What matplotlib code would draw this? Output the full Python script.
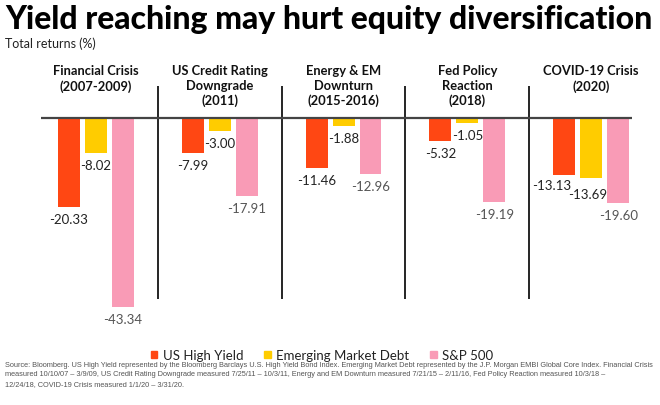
import numpy as np
import matplotlib
matplotlib.use("Agg")
import matplotlib.pyplot as plt
import matplotlib.transforms as mtransforms
from matplotlib.patches import Patch

# donnees
periods = ["Financial Crisis\n(2007-2009)", "US Credit Rating\nDowngrade\n(2011)",
           "Energy & EM\nDownturn\n(2015-2016)", "Fed Policy\nReaction\n(2018)",
           "COVID-19 Crisis\n(2020)"]
series = ["US High Yield", "Emerging Market Debt", "S&P 500"]
high_yield = [-20.33, -7.99, -11.46, -5.32, -13.13]
em_debt = [-8.02, -3.00, -1.88, -1.05, -13.69]
sp500 = [-43.34, -17.91, -12.96, -19.19, -19.60]

colors = ["#FF4713", "#FFCC00", "#F99BB6"]
label_colors = ["#222222", "#222222", "#555555"]
# petits decalages (pixels) pour eviter les chevauchements d'etiquettes
nudges = {(0, 4): (-12, 2), (1, 4): (-3, -4)}

source = ("Source: Bloomberg. US High Yield represented by the Bloomberg Barclays U.S. High Yield Bond Index. "
          "Emerging Market Debt represented by the J.P. Morgan EMBI Global Core Index. Financial Crisis\n"
          "measured 10/10/07 \u2013 3/9/09, US Credit Rating Downgrade measured 7/25/11 \u2013 10/3/11, "
          "Energy and EM Downturn measured 7/21/15 \u2013 2/11/16, Fed Policy Reaction measured 10/3/18 \u2013\n"
          "12/24/18, COVID-19 Crisis measured 1/1/20 \u2013 3/31/20.")

W, H = 660, 406
fig = plt.figure(figsize=(W / 100, H / 100), dpi=100)
plt.rcParams['font.family'] = ['Lato', 'DejaVu Sans']

ax = fig.add_axes([41 / W, 1 - 330 / H, (632 - 41) / W, (330 - 87) / H])
ax.set_xlim(-0.444, 4.33)
ax.set_ylim(-48.4, 7.34)
ax.axis('off')

x = np.arange(len(periods))
width = 0.177
offset = 0.218
handles = []
for k, vals in enumerate([high_yield, em_debt, sp500]):
    pos = x + (k - 1) * offset
    ax.bar(pos, vals, width, color=colors[k], label=series[k], zorder=2)
    handles.append(Patch(color=colors[k], label=series[k]))
    for i, (p, v) in enumerate(zip(pos, vals)):
        dx, dy = nudges.get((k, i), (0, 0))
        ax.annotate(f"{v:.2f}", (p, v), xytext=(dx, -12 + dy),
                    textcoords='offset pixels', ha='center', va='center',
                    fontsize=9.5, color=label_colors[k])

ax.axhline(0, color='#444444', lw=1.6, zorder=3)
ax.vlines(x[:-1] + 0.5, -41.5, 7.34, color='black', lw=1.2)

# en-tetes des periodes
trans = mtransforms.blended_transform_factory(ax.transData, fig.transFigure)
for i, name in enumerate(periods):
    ax.text(i, 1 - 65 / H, name, transform=trans,
            ha='center', va='top', fontsize=9.3, fontweight='bold', linespacing=1.28,
            color='#111111')

title = fig.text(5 / W, 1 - 20 / H, "Yield reaching may hurt equity diversification",
                 fontsize=19, fontweight='black', va='center', ha='left', color='black')
fig.text(5 / W, 1 - 44 / H, "Total returns (%)", fontsize=9, va='center', color='#222222')

fig.legend(handles=handles, loc='center', bbox_to_anchor=(322 / W, 1 - 356 / H), ncol=3,
           frameon=False, fontsize=9.5, handlelength=0.5, handleheight=0.5,
           handletextpad=0.4, columnspacing=1.6, labelcolor='#222222')

src = fig.text(5 / W, 1 - 362 / H, source, fontsize=5.5, va='top', ha='left',
               color='#555555', linespacing=1.5,
               family=['Liberation Sans Narrow', 'Liberation Sans', 'DejaVu Sans'])

# ajuster la taille du titre et de la source a la largeur voulue
fig.canvas.draw()
r = fig.canvas.get_renderer()
for t, target in [(title, 645), (src, 652)]:
    w = t.get_window_extent(r).width
    t.set_fontsize(t.get_fontsize() * target / w)

fig.savefig("out.png", dpi=100)
